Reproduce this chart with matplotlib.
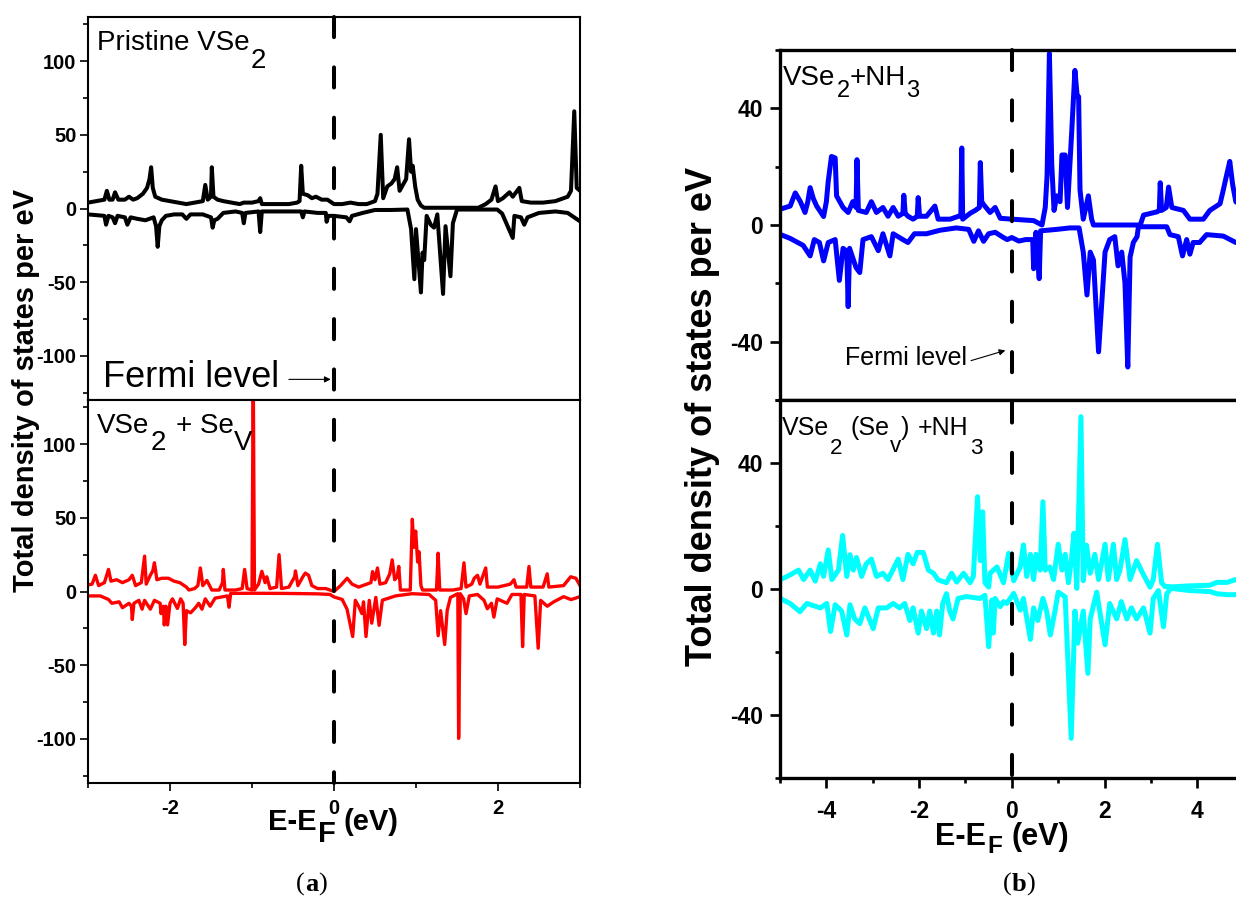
import matplotlib
matplotlib.use("Agg")
import matplotlib.pyplot as plt
from matplotlib.ticker import MultipleLocator
from matplotlib.lines import Line2D
from matplotlib.transforms import blended_transform_factory

plt.rcParams['font.family'] = ['Liberation Sans', 'DejaVu Sans']
plt.rcParams['font.weight'] = 'bold'
plt.rcParams['axes.unicode_minus'] = False

W, H, DPI = 1236, 916, 100

# ---- (a) pristine VSe2 : spin up / spin down ----
e_prist_up = [-3.00, -2.90, -2.80, -2.77, -2.74, -2.70, -2.67, -2.63, -2.55, -2.50, -2.45, -2.40,
              -2.33, -2.28, -2.25, -2.23, -2.21, -2.18, -2.10, -2.00, -1.90, -1.80, -1.70, -1.60,
              -1.57, -1.54, -1.50, -1.49, -1.47, -1.42, -1.35, -1.25, -1.15, -1.10, -1.00, -0.92,
              -0.90, -0.88, -0.80, -0.65, -0.55, -0.45, -0.42, -0.40, -0.38, -0.32, -0.27, -0.22,
              -0.15, -0.08, 0.00, 0.10, 0.20, 0.30, 0.40, 0.45, 0.50, 0.53, 0.57, 0.60,
              0.65, 0.70, 0.74, 0.77, 0.80, 0.85, 0.88, 0.915, 0.94, 0.96, 0.99, 1.02,
              1.06, 1.10, 1.40, 1.76, 1.85, 1.92, 1.97, 2.00, 2.06, 2.14, 2.18, 2.26,
              2.29, 2.40, 2.55, 2.70, 2.85, 2.89, 2.93, 2.96, 3.00]
dos_prist_up = [4, 5, 6, 12, 6, 6, 11, 6, 6, 8, 6, 7,
                10, 14, 20, 28, 14, 8, 6, 5, 4, 3, 4, 5,
                16, 6, 8, 28, 8, 6, 5, 4, 3, 4, 4, 5,
                7, 3, 3, 3, 3, 4, 5, 29, 10, 9, 7, 8,
                6, 6, 3, 3, 4, 3, 3, 4, 5, 10, 50, 7,
                15, 17, 20, 28, 12, 17, 20, 47, 25, 29, 15, 6,
                2, 0.5, 0.5, 0.5, 3, 6, 15, 5, 7, 11, 8, 14,
                5, 4, 4, 5, 8, 12, 66, 14, 12]
e_prist_dn = [-3.00, -2.90, -2.80, -2.78, -2.75, -2.70, -2.67, -2.64, -2.55, -2.52, -2.48, -2.40,
              -2.30, -2.20, -2.17, -2.15, -2.13, -2.10, -2.05, -1.95, -1.85, -1.80, -1.75, -1.60,
              -1.50, -1.48, -1.46, -1.42, -1.35, -1.20, -1.12, -1.10, -1.08, -0.92, -0.90, -0.88,
              -0.70, -0.50, -0.40, -0.38, -0.36, -0.20, -0.10, -0.09, -0.07, 0.00, 0.15, 0.19,
              0.22, 0.35, 0.50, 0.70, 0.895, 0.94, 0.98, 1.00, 1.06, 1.08, 1.10, 1.13,
              1.18, 1.22, 1.26, 1.33, 1.36, 1.42, 1.45, 1.50, 1.99, 2.05, 2.18, 2.20,
              2.28, 2.32, 2.36, 2.50, 2.70, 2.85, 3.00]
dos_prist_dn = [-4, -4.5, -5, -11, -5, -6, -10, -5, -6, -11, -6, -7,
                -8, -6, -12, -26, -12, -8, -5, -4, -4, -7, -4, -4,
                -6, -13, -8, -7, -3, -2, -3, -10, -3, -2, -16, -2,
                -2, -2, -2, -6, -2, -3, -3, -9, -5, -5, -6, -8.7,
                -5, -3, -1, -1, -0.7, -14, -48, -14, -57, -30, -35, -5,
                -11, -13, -4, -58, -12, -46, -10, -0.7, -0.7, -3.4, -20, -5,
                -6, -11, -6, -3, -2, -3, -8.7]

# ---- (a) VSe2 + Se vacancy ----
e_vac_up = [-3.00, -2.95, -2.91, -2.87, -2.80, -2.75, -2.72, -2.65, -2.58, -2.50, -2.46, -2.42,
            -2.35, -2.31, -2.29, -2.24, -2.21, -2.19, -2.16, -2.10, -2.02, -1.95, -1.88, -1.80,
            -1.77, -1.70, -1.66, -1.63, -1.60, -1.55, -1.49, -1.40, -1.36, -1.35, -1.33, -1.20,
            -1.12, -1.09, -1.06, -1.00, -0.985, -0.97, -0.92, -0.88, -0.84, -0.82, -0.78, -0.70,
            -0.67, -0.64, -0.55, -0.48, -0.47, -0.44, -0.38, -0.35, -0.31, -0.27, -0.20, -0.10,
            0.00, 0.08, 0.16, 0.22, 0.30, 0.40, 0.45, 0.47, 0.50, 0.53, 0.56, 0.63,
            0.68, 0.71, 0.74, 0.77, 0.79, 0.81, 0.93, 0.955, 0.975, 0.996, 1.02, 1.037,
            1.06, 1.08, 1.25, 1.27, 1.29, 1.45, 1.55, 1.585, 1.61, 1.68, 1.71, 1.75,
            1.78, 1.85, 1.87, 2.00, 2.15, 2.195, 2.22, 2.35, 2.378, 2.40, 2.55, 2.60,
            2.62, 2.80, 2.886, 2.95, 3.00]
dos_vac_up = [4.5, 5, 11, 4, 6, 15, 7, 8, 6, 8, 11, 4,
              6, 24, 5, 11, 14, 19.5, 8, 9, 9, 7, 6, 3,
              1, 2, 4, 16, 4, 7.5, 1, 1, 6, 15, 1, 1,
              2, 15, 2, 1, 150, 1, 5, 13.7, 6, 10, 2, 3,
              25, 2, 3, 10, 14, 4, 10, 12.5, 11, 4, 2, 2,
              0, 4, 9, 5, 3, 5, 6, 13.5, 8, 16, 5, 6,
              12, 21.5, 8, 10, 17, 1, 1, 49, 30, 41, 20, 27,
              4, 1, 1, 26, 1, 1, 2, 19.5, 3, 5, 9, 11,
              5, 16, 3, 3, 5, 8, 3, 3, 17, 3, 3, 12,
              3, 4, 10, 9, 4]
e_vac_dn = [-3.00, -2.85, -2.75, -2.71, -2.62, -2.58, -2.50, -2.47, -2.46, -2.44, -2.38, -2.34,
            -2.31, -2.24, -2.19, -2.12, -2.11, -2.08, -2.07, -2.05, -2.03, -2.00, -1.97, -1.91,
            -1.87, -1.84, -1.82, -1.80, -1.75, -1.69, -1.65, -1.61, -1.57, -1.51, -1.45, -1.30,
            -1.28, -1.26, -1.00, -0.60, -0.20, -0.05, 0.00, 0.10, 0.159, 0.228, 0.26, 0.30,
            0.34, 0.36, 0.39, 0.43, 0.46, 0.51, 0.55, 0.59, 0.75, 0.95, 1.16, 1.24,
            1.27, 1.30, 1.35, 1.38, 1.42, 1.51, 1.52, 1.54, 1.58, 1.61, 1.65, 1.75,
            1.83, 1.87, 1.92, 1.95, 1.99, 2.11, 2.17, 2.28, 2.30, 2.32, 2.45, 2.49,
            2.52, 2.60, 2.68, 2.80, 2.89, 3.00]
dos_vac_dn = [-3, -3, -5.4, -8, -7, -11, -8, -10, -19, -8, -6, -12,
              -6, -12, -6, -8, -15, -10, -22.7, -10, -22.7, -8, -5, -11.5,
              -5, -8, -36, -13, -14.5, -11, -8, -12, -5, -10, -4.5, -3,
              -10.7, -1.3, -1.2, -1.3, -1.6, -2, -3.7, -5.4, -12, -30.6, -6, -10,
              -15, -7, -30.6, -6, -21.5, -4, -23, -5.9, -3, -1.5, -2, -6,
              -30, -13, -36, -13, -4, -1.5, -99.7, -1.5, -5, -15, -3, -2,
              -6, -11.7, -8, -17.4, -5, -8, -2, -2, -37.4, -2, -3, -38.5,
              -6, -10, -7, -3.5, -5.5, -3.5]

# ---- (b) VSe2 + NH3 ----
e_nh3_up = [-5.00, -4.78, -4.72, -4.67, -4.56, -4.46, -4.40, -4.35, -4.28, -4.21, -4.06, -4.00,
            -3.96, -3.89, -3.81, -3.78, -3.64, -3.53, -3.43, -3.36, -3.34, -3.31, -3.14, -3.03,
            -2.92, -2.78, -2.67, -2.56, -2.45, -2.35, -2.33, -2.30, -2.24, -2.13, -2.04, -2.02,
            -1.99, -1.84, -1.66, -1.59, -1.48, -1.33, -1.15, -1.10, -1.08, -1.06, -0.90, -0.79,
            -0.70, -0.68, -0.65, -0.61, -0.47, -0.36, -0.25, 0.00, 0.47, 0.65, 0.72, 0.76,
            0.81, 0.86, 0.91, 0.97, 1.04, 1.08, 1.15, 1.20, 1.29, 1.36, 1.41, 1.44,
            1.47, 1.54, 1.65, 1.72, 1.76, 2.77, 2.84, 3.13, 3.18, 3.20, 3.23, 3.33,
            3.38, 3.45, 3.70, 3.84, 4.13, 4.27, 4.49, 4.56, 4.63, 4.70, 4.76, 4.83, 5.00]
dos_nh3_up = [5.4, 6.5, 9, 11, 8, 4.3, 8, 12.8, 9, 6.5, 2.9, 8,
              15, 23.5, 23, 10, 6, 4.3, 8, 6, 22.4, 5, 4.3, 8,
              4.3, 6, 3, 6, 3, 4, 10.2, 4, 3, 2, 3, 9.4,
              3, 3, 6.5, 2, 2, 2, 3, 3, 26.4, 2, 4, 5,
              6, 21.4, 8, 7, 4.3, 6, 2.3, 2, 1.5, 0, 6, 17,
              58.8, 21, 5, 10, 8, 24, 24, 6, 31.6, 53, 44, 44,
              12, 2, 10, 2, 0, 0, 3.4, 4.5, 5, 14.5, 5, 6,
              13, 6, 5, 2, 2, 5, 7.3, 12, 17, 21.8, 14, 8, 6]
e_nh3_dn = [-5.00, -4.78, -4.50, -4.35, -4.26, -4.15, -4.06, -3.96, -3.81, -3.72, -3.64, -3.56,
            -3.53, -3.50, -3.36, -3.28, -3.21, -3.03, -2.88, -2.78, -2.63, -2.56, -2.35, -2.24,
            -2.10, -1.84, -1.55, -1.20, -0.93, -0.82, -0.72, -0.61, -0.50, -0.36, -0.18, -0.10,
            0.00, 0.15, 0.30, 0.45, 0.47, 0.52, 0.59, 0.62, 0.97, 1.25, 1.45, 1.54,
            1.62, 1.69, 1.76, 1.87, 1.94, 2.01, 2.11, 2.22, 2.29, 2.37, 2.44, 2.50,
            2.55, 2.62, 2.70, 2.73, 3.34, 3.41, 3.59, 3.68, 3.77, 3.84, 3.91, 4.05,
            4.20, 4.56, 4.83, 5.00]
dos_nh3_dn = [-3.2, -4.6, -7, -10.6, -5, -6, -12.3, -6, -5, -19, -8, -9,
              -28, -8, -14.6, -16.3, -5, -4, -8.8, -3, -10.6, -3, -5, -6,
              -3, -3, -1.8, -1, -1.5, -5.6, -2, -5.6, -3, -2.5, -4.3, -5,
              -4.3, -5.5, -5, -5, -15, -2.5, -18.4, -2, -1.5, -1, -1, -9.3,
              -24, -9.3, -12, -43.5, -26.5, -9.3, -5, -4, -14, -9.3, -20, -48.7,
              -11, -6, -4, -0.6, -0.6, -3.3, -4, -10.6, -5, -10, -6, -6,
              -3.3, -3.8, -6, -6]

# ---- (b) VSe2 (Se vacancy) + NH3 ----
e_vnh3_up = [-5.00, -4.78, -4.60, -4.49, -4.35, -4.24, -4.13, -4.06, -3.96, -3.88, -3.74, -3.65,
             -3.56, -3.49, -3.42, -3.35, -3.24, -3.14, -3.03, -2.92, -2.78, -2.67, -2.45, -2.35,
             -2.24, -2.13, -2.04, -1.91, -1.80, -1.69, -1.59, -1.41, -1.30, -1.19, -1.04, -0.90,
             -0.83, -0.74, -0.68, -0.63, -0.58, -0.50, -0.47, -0.32, -0.18, -0.07, 0.04, 0.18,
             0.25, 0.32, 0.40, 0.47, 0.52, 0.61, 0.67, 0.72, 0.82, 0.90, 1.00, 1.08,
             1.15, 1.22, 1.29, 1.34, 1.40, 1.49, 1.54, 1.61, 1.69, 1.79, 1.87, 2.01,
             2.08, 2.19, 2.26, 2.33, 2.44, 2.55, 2.69, 2.84, 2.98, 3.05, 3.14, 3.23,
             3.30, 3.48, 3.84, 4.27, 4.42, 4.64, 4.83, 5.00]
dos_vnh3_up = [2.9, 4.5, 6, 3, 6, 2.5, 8, 4, 12.4, 3, 6, 17,
               4, 10.9, 6, 10, 4, 8, 9.5, 4, 5, 3, 9.5, 3,
               11, 8, 11.6, 11.6, 6, 5, 2.9, 2, 5, 2.2, 5, 2,
               4, 29.3, 9, 24.5, 2, 0.6, 5, 7, 2, 11.3, 2.6, 7,
               14, 4, 11, 3, 11, 6, 27.7, 6, 7, 3, 14.2, 6,
               11, 2, 10, 17.7, 0.2, 54.7, 2.6, 13.9, 5, 11, 3, 14.2,
               3, 14.2, 3, 6, 15.7, 3, 9, 4.5, 0.6, 3, 14.2, 2,
               0.8, 0.7, 1, 1.2, 2.1, 2.1, 3, 3]
e_vnh3_dn = [-5.00, -4.78, -4.57, -4.42, -4.13, -3.99, -3.91, -3.81, -3.67, -3.56, -3.49, -3.39,
             -3.28, -3.17, -2.99, -2.88, -2.70, -2.56, -2.42, -2.31, -2.20, -2.13, -2.02, -1.95,
             -1.84, -1.77, -1.69, -1.62, -1.56, -1.49, -1.41, -1.34, -1.27, -1.16, -0.98, -0.69,
             -0.58, -0.50, -0.43, -0.40, -0.36, -0.25, -0.18, -0.11, 0.04, 0.18, 0.25, 0.40,
             0.47, 0.56, 0.67, 0.75, 0.83, 0.93, 1.00, 1.15, 1.28, 1.36, 1.42, 1.54,
             1.64, 1.69, 1.83, 2.01, 2.11, 2.26, 2.36, 2.48, 2.58, 2.69, 2.84, 2.98,
             3.05, 3.16, 3.27, 3.34, 3.43, 3.84, 4.27, 4.42, 4.64, 4.83, 5.00]
dos_vnh3_dn = [-3, -4.6, -7.2, -4.6, -6, -4.6, -13.5, -5, -7, -14.6, -5, -9.5,
               -11, -6, -12.6, -6, -6, -4.6, -6, -4.6, -10, -6, -14, -7,
               -12.6, -7, -14, -7, -14.6, -4.6, -1.5, -7, -9.5, -3, -2.4, -3,
               -2, -18.3, -3.5, -14, -3, -5.6, -4, -4.6, -1.4, -6.7, -3, -16,
               -6, -10, -3, -7, -14.6, -7, -1, -2.5, -47.4, -7, -17.2, -7,
               -26.8, -9.5, -1, -17.7, -4.6, -9.5, -4, -9.5, -6, -9.5, -6, -14,
               -3, -0.5, -12, -1.5, 0.2, -0.5, -0.8, -1.5, -1.8, -1.8, -1.8]

fig = plt.figure(figsize=(W / DPI, H / DPI), dpi=DPI)


def px_axes(left, top, right, bottom):
    return fig.add_axes([left / W, 1 - bottom / H, (right - left) / W, (bottom - top) / H])


ax_a1 = px_axes(88, 17, 580, 400)
ax_a2 = px_axes(88, 400, 580, 783)
ax_b1 = px_axes(780, 50, 1243.7, 400)
ax_b2 = px_axes(780, 400, 1243.7, 778)


def style(ax, xlim, ylim, xmaj, ymaj, size, spine_w, major_len, ypad, xpad, show_x):
    ax.set_xlim(xlim)
    ax.set_ylim(ylim)
    ax.xaxis.set_major_locator(MultipleLocator(xmaj))
    ax.xaxis.set_minor_locator(MultipleLocator(xmaj / 2))
    ax.yaxis.set_major_locator(MultipleLocator(ymaj))
    ax.yaxis.set_minor_locator(MultipleLocator(ymaj / 2))
    for s in ax.spines.values():
        s.set_linewidth(spine_w)
    ax.tick_params(which='both', direction='out', width=spine_w * 0.8, top=False, right=False)
    ax.tick_params(which='major', length=major_len)
    ax.tick_params(which='minor', length=3.6)
    ax.tick_params(axis='y', labelsize=size, pad=ypad)
    ax.tick_params(axis='x', labelsize=size, pad=xpad)
    if not show_x:
        ax.tick_params(axis='x', which='both', bottom=False, labelbottom=False)


style(ax_a1, (-3, 3), (-130, 130), 2, 50, 14.5, 1.5, 5.8, 2.5, 5.5, False)
style(ax_a2, (-3, 3), (-130, 130), 2, 50, 14.5, 1.5, 5.8, 2.5, 5.5, True)
style(ax_b1, (-5, 5), (-60, 60), 2, 40, 16.5, 2.4, 7.2, 5, 9, False)
style(ax_b2, (-5, 5), (-60, 60), 2, 40, 16.5, 2.4, 7.2, 5, 9, True)

ax_a1.plot(e_prist_up, dos_prist_up, color='black', lw=2.9)
ax_a1.plot(e_prist_dn, dos_prist_dn, color='black', lw=2.9)
ax_a2.plot(e_vac_up, dos_vac_up, color='red', lw=2.4)
ax_a2.plot(e_vac_dn, dos_vac_dn, color='red', lw=2.4)
ax_b1.plot(e_nh3_up, dos_nh3_up, color='blue', lw=3.6)
ax_b1.plot(e_nh3_dn, dos_nh3_dn, color='blue', lw=3.6)
ax_b2.plot(e_vnh3_up, dos_vnh3_up, color='cyan', lw=3.6)
ax_b2.plot(e_vnh3_dn, dos_vnh3_dn, color='cyan', lw=3.6)


def fermi_line(ax_top, ax_bot, lw):
    tr = blended_transform_factory(ax_bot.transData, fig.transFigure)
    y0 = ax_top.get_position().y1
    y1 = ax_bot.get_position().y0
    fig.add_artist(Line2D([0, 0], [y0, y1], transform=tr, color='black', lw=lw,
                          linestyle=(0, (5, 7.5)), dash_capstyle='round'))


fermi_line(ax_a1, ax_a2, 2.9)
fermi_line(ax_b1, ax_b2, 2.9)

renderer = fig.canvas.get_renderer()


def rich(x, y, parts, size, weight='normal', family=None):
    # x, y: pixel position (from top-left) of the baseline start
    # parts: (text, drop_px, scale, gap_px[, weight])
    for part in parts:
        s, drop, scale, gap = part[:4]
        w = part[4] if len(part) > 4 else weight
        x += gap
        kw = {} if family is None else {'family': family}
        t = fig.text(x / W, 1 - (y + drop) / H, s, fontsize=size * scale, fontweight=w,
                     ha='left', va='baseline', **kw)
        x = t.get_window_extent(renderer).x1


# panel titles
rich(97, 50, [("Pristine VSe", 0, 1, 0), ("2", 18, 1, 1)], 20)
rich(97, 433, [("VSe", 0, 1, 0), ("2", 17, 1, 1), ("+ Se", 0, 1, 10), ("V", 17, 1, 0)], 20)
rich(783, 85, [("VSe", 0, 1, 0), ("2", 12, 0.85, 1), ("+NH", 0, 1, 0), ("3", 12, 0.85, 0)], 20)
rich(782, 435, [("VSe", 0, 1, 0), ("2", 19, 0.9, 1), ("(Se", 0, 1, 8), ("v", 17, 0.9, 0),
                (")", 0, 1, 0), ("+NH", 0, 1, 8), ("3", 19, 0.9, 2)], 18)

# Fermi level labels
rich(103, 387, [("Fermi level", 0, 1, 0)], 26)
rich(845, 365, [("Fermi level", 0, 1, 0)], 18)
arrow = dict(arrowstyle='-|>', lw=0.8, color='black', mutation_scale=9, shrinkA=0, shrinkB=0)
ax_a1.annotate("", xy=(-0.04, -116), xytext=(-0.55, -116), arrowprops=arrow)
ax_b1.annotate("", xy=(-0.14, -43), xytext=(-0.88, -46.5), arrowprops=arrow)

# axis labels
fig.text(26 / W, 1 - 391 / H, "Total density of states per eV", rotation=90,
         ha='center', va='center', fontsize=21, fontweight='bold')
fig.text(703 / W, 1 - 416 / H, "Total density of states per eV", rotation=90,
         ha='center', va='center', fontsize=26, fontweight='bold')
rich(268, 830, [("E-E", 0, 1, 0), ("F", 12, 1, 1), ("(eV)", 0, 1, 8)], 21, 'bold')
rich(935, 845, [("E-E", 0, 1, 0), ("F", 8, 0.8, 1), ("(eV)", 0, 1, 10)], 22, 'bold')

# panel captions
rich(296, 891, [("(", 0, 1, 0), ("a", 0, 1, 0, 'bold'), (")", 0, 1, 0)], 19, family='Liberation Serif')
rich(1003, 891, [("(", 0, 1, 0), ("b", 0, 1, 0, 'bold'), (")", 0, 1, 0)], 19, family='Liberation Serif')

fig.savefig("out.png", dpi=DPI)
